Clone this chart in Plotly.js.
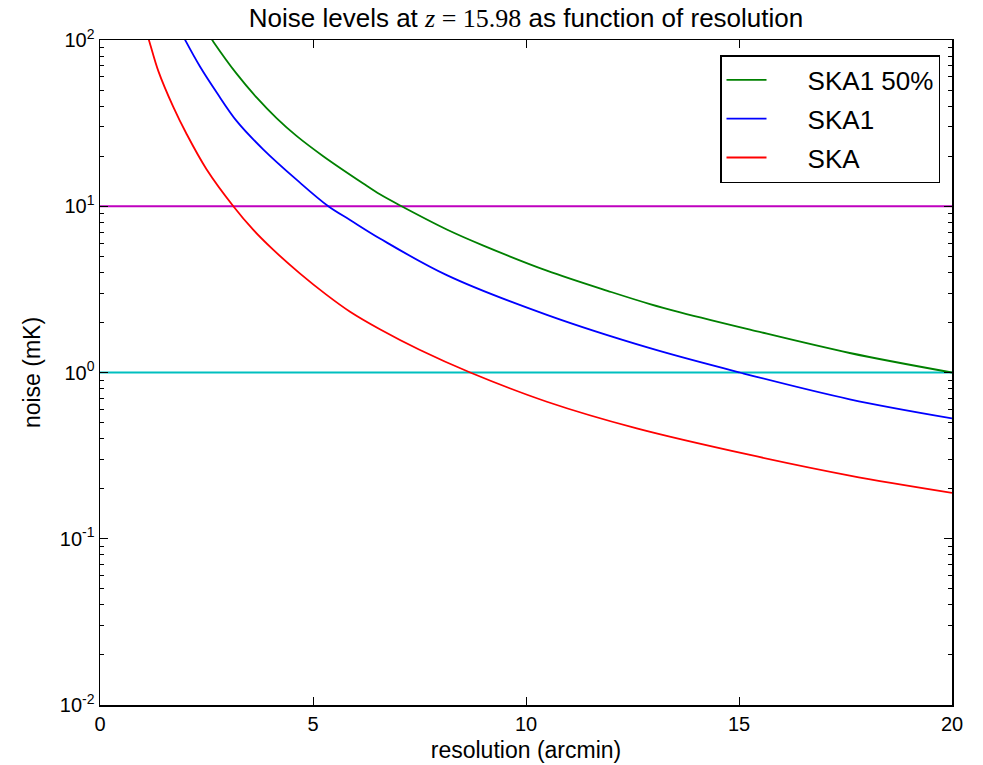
<!DOCTYPE html>
<html>
<head>
<meta charset="utf-8">
<script src="https://cdn.plot.ly/plotly-3.0.1.min.js"></script>
<style>html,body{margin:0;padding:0;background:#fff;}#chart{width:983px;height:765px;}</style>
</head>
<body>
<div id="chart"></div>
<script>
// Data
const greenX = [2.55, 2.66, 3.21, 3.68, 4.15, 4.62, 5.24, 6.18, 6.57, 7.08, 8.14, 9.0, 10.49, 12.0, 12.91, 13.62, 15.26, 17.6, 20.0];
const greenY = [108, 97.7, 62.5, 45, 33.8, 26.4, 20, 13.7, 11.8, 10.0, 7.25, 5.8, 4.1, 3.05, 2.58, 2.3, 1.81, 1.31, 1.0];

const blueX = [1.97, 2.02, 2.35, 2.74, 3.21, 3.83, 4.62, 5.36, 5.87, 6.57, 8.14, 10.49, 12.91, 15.02, 17.6, 20.0];
const blueY = [103.5, 97.7, 69, 48.3, 32.5, 22.0, 14.4, 10.0, 8.27, 6.4, 3.85, 2.22, 1.40, 1.0, 0.69, 0.53];

const redX = [1.12, 1.16, 1.37, 1.72, 2.03, 2.5, 3.13, 3.6, 4.07, 4.69, 5.32, 5.87, 6.57, 7.5, 8.69, 10.49, 12.6, 15.26, 17.6, 20.0];
const redY = [105, 97.7, 65, 39.6, 27.3, 16.7, 10.0, 7.2, 5.46, 3.95, 2.93, 2.32, 1.82, 1.37, 1.0, 0.667, 0.461, 0.319, 0.24, 0.189];

const refX = [0, 20];
const magentaY = [10, 10];
const cyanY = [1, 1];

const seriesNames = ["SKA1 50%", "SKA1", "SKA"];
const yTickVals = [0.01, 0.1, 1, 10, 100];
const yTickText = ["10<sup>-2</sup>", "10<sup>-1</sup>", "10<sup>0</sup>", "10<sup>1</sup>", "10<sup>2</sup>"];
const xTickVals = [0, 5, 10, 15, 20];
const minorVals = [];
[0.01, 0.1, 1, 10].forEach(d => { for (let k = 2; k <= 9; k++) minorVals.push(+(d * k).toPrecision(3)); });

const pad = '\u00a0\u00a0\u00a0\u00a0\u00a0';
const lw = 1.8;
const sm = {shape: 'spline', smoothing: 1};
const traces = [
  {x: refX, y: magentaY, mode: 'lines', line: {color: '#bf00bf', width: lw}, showlegend: false, hoverinfo: 'skip'},
  {x: refX, y: cyanY, mode: 'lines', line: {color: '#00bfbf', width: lw}, showlegend: false, hoverinfo: 'skip'},
  {x: greenX, y: greenY, mode: 'lines', name: pad + seriesNames[0], legendgroup: 'a', line: Object.assign({color: '#008000', width: lw}, sm)},
  {x: blueX, y: blueY, mode: 'lines', name: pad + seriesNames[1], legendgroup: 'b', line: Object.assign({color: '#0000ff', width: lw}, sm)},
  {x: redX, y: redY, mode: 'lines', name: pad + seriesNames[2], legendgroup: 'c', line: Object.assign({color: '#ff0000', width: lw}, sm)}
];

const font = {family: '"Liberation Sans", Arial, sans-serif', color: '#000'};
const serif = "font-family:'Liberation Serif',serif";
const layout = {
  width: 983, height: 765,
  margin: {l: 100, r: 31, t: 40, b: 60},
  paper_bgcolor: '#fff', plot_bgcolor: '#fff',
  font: Object.assign({size: 20}, font),
  title: {
    text: 'Noise levels at <span style="' + serif + ';font-style:italic">z</span><span style="' + serif + '"> = 15.98</span> as function of resolution',
    font: Object.assign({size: 26}, font),
    x: 0.5, xref: 'paper', xanchor: 'center',
    y: 1 - 18 / 765, yref: 'container', yanchor: 'middle'
  },
  xaxis: {
    range: [0, 20], tickmode: 'array', tickvals: xTickVals, ticktext: xTickVals.map(String),
    ticks: 'inside', ticklen: 8, tickwidth: 1, tickcolor: '#000',
    showline: true, linecolor: '#000', linewidth: 1.5, mirror: 'allticks',
    showgrid: false, zeroline: false,
    tickfont: Object.assign({size: 20}, font),
    title: {text: 'resolution (arcmin)', font: Object.assign({size: 23}, font), standoff: 8}
  },
  yaxis: {
    type: 'log', range: [-2, 2], tickmode: 'array', tickvals: yTickVals, ticktext: yTickText,
    ticks: 'inside', ticklen: 8, tickwidth: 1, tickcolor: '#000',
    showline: true, linecolor: '#000', linewidth: 1.5, mirror: 'allticks',
    showgrid: false, zeroline: false,
    tickfont: Object.assign({size: 20}, font),
    minor: {tickmode: 'array', tickvals: minorVals, ticks: 'inside', ticklen: 4, tickwidth: 1, tickcolor: '#000', showgrid: false},
    title: {text: 'noise (mK)', font: Object.assign({size: 23}, font), standoff: 12}
  },
  legend: {
    x: (940 - 100) / 852, xanchor: 'right', y: 1 - 15 / 665, yanchor: 'top',
    bordercolor: '#000', borderwidth: 1.5, bgcolor: '#fff',
    font: Object.assign({size: 26}, font),
    traceorder: 'grouped', tracegroupgap: 2, itemwidth: 40
  },
  showlegend: true
};

Plotly.newPlot('chart', traces, layout, {staticPlot: true, displayModeBar: false});
</script>
</body>
</html>
